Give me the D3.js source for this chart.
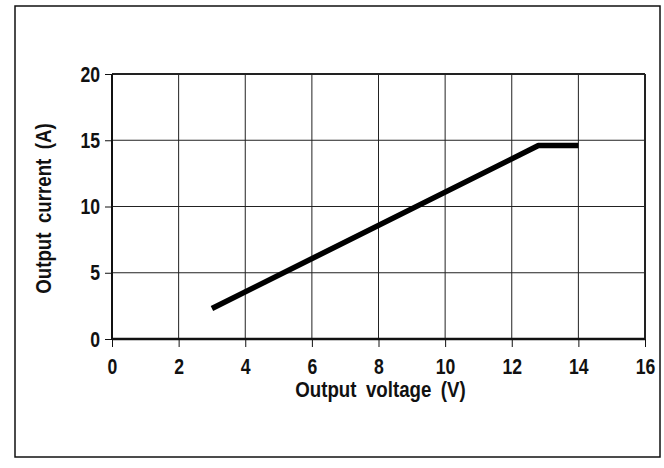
<!DOCTYPE html>
<html>
<head>
<meta charset="utf-8">
<script src="https://cdn.jsdelivr.net/npm/d3@7"></script>
<style>
  body { margin: 0; background: #fff; }
  svg text { font-family: "Liberation Sans", Arial, sans-serif; font-weight: bold; fill: #111; }
  .grid line { stroke: #222; stroke-width: 1; }
</style>
</head>
<body>
<div id="container"></div>
<script>
// data
var voltage = [3, 12.8, 14];
var current = [2.3, 14.6, 14.6];
var xTicks = [0, 2, 4, 6, 8, 10, 12, 14, 16];
var yTicks = [0, 5, 10, 15, 20];

var W = 664, H = 468;
var margin = {top: 74, right: 19, bottom: 129, left: 112},
	width = W - margin.left - margin.right,
	height = H - margin.top - margin.bottom;
var squeeze = 0.8; // the scan uses a condensed face

var svg = d3.select("#container").append("svg")
	.attr("width", W)
	.attr("height", H);

// outer frame
svg.append("rect")
	.attr("x", 15).attr("y", 6)
	.attr("width", 645).attr("height", 451)
	.attr("fill", "none")
	.attr("stroke", "#111")
	.attr("stroke-width", 1.5);

var g = svg.append("g")
	.attr("transform", "translate(" + margin.left + "," + margin.top + ")");

var x = d3.scaleLinear().domain([0, 16]).range([0, width]);
var y = d3.scaleLinear().domain([0, 20]).range([height, 0]);

// grid (outer edges a bit heavier, like the scan)
var grid = g.append("g").attr("class", "grid");
grid.selectAll(".vx").data(xTicks.slice(1)).enter().append("line")
	.attr("x1", d => x(d)).attr("x2", d => x(d))
	.attr("y1", 0).attr("y2", height)
	.style("stroke-width", d => d === 16 ? 2 : 1);
grid.selectAll(".hy").data(yTicks.slice(1)).enter().append("line")
	.attr("x1", 0).attr("x2", width)
	.attr("y1", d => y(d)).attr("y2", d => y(d))
	.style("stroke-width", d => d === 20 ? 2 : 1);

// axes
var xAxis = d3.axisBottom(x).tickValues(xTicks).tickSize(8).tickPadding(11).tickFormat(d3.format("d"));
var yAxis = d3.axisLeft(y).tickValues(yTicks).tickSize(7).tickPadding(4).tickFormat(d3.format("d"));

var xg = g.append("g")
	.attr("transform", "translate(0," + height + ")")
	.call(xAxis);
xg.select(".domain").attr("stroke", "#111").attr("stroke-width", 2.5).attr("d", "M0,0H" + width);
xg.selectAll(".tick line").attr("stroke", "#111").attr("stroke-width", 1);
xg.selectAll(".tick text")
	.attr("font-size", 22).attr("fill", "#111")
	.attr("transform", "scale(" + squeeze + ",1)");

var yg = g.append("g").call(yAxis);
yg.select(".domain").attr("stroke", "#111").attr("stroke-width", 2).attr("d", "M0,0V" + height);
yg.selectAll(".tick line").attr("stroke", "#111").attr("stroke-width", 1);
yg.selectAll(".tick text")
	.attr("font-size", 22).attr("fill", "#111")
	.attr("x", -12 / squeeze)
	.attr("transform", "scale(" + squeeze + ",1)");

// axis titles
g.append("g")
	.attr("transform", "translate(" + (width / 2 + 2) + "," + (height + 58) + ") scale(0.85,1)")
	.append("text")
	.attr("text-anchor", "middle")
	.attr("font-size", 22)
	.style("word-spacing", "5px")
	.text("Output voltage (V)");

g.append("g")
	.attr("transform", "translate(-61," + (height / 2 + 2) + ") rotate(-90) scale(0.85,1)")
	.append("text")
	.attr("text-anchor", "middle")
	.attr("font-size", 22)
	.style("word-spacing", "5px")
	.text("Output current (A)");

// the curve
var pts = voltage.map((v, i) => [v, current[i]]);
g.append("path")
	.datum(pts)
	.attr("fill", "none")
	.attr("stroke", "#000")
	.attr("stroke-width", 5.5)
	.attr("stroke-linejoin", "round")
	.attr("d", d3.line().x(d => x(d[0])).y(d => y(d[1])));
</script>
</body>
</html>
